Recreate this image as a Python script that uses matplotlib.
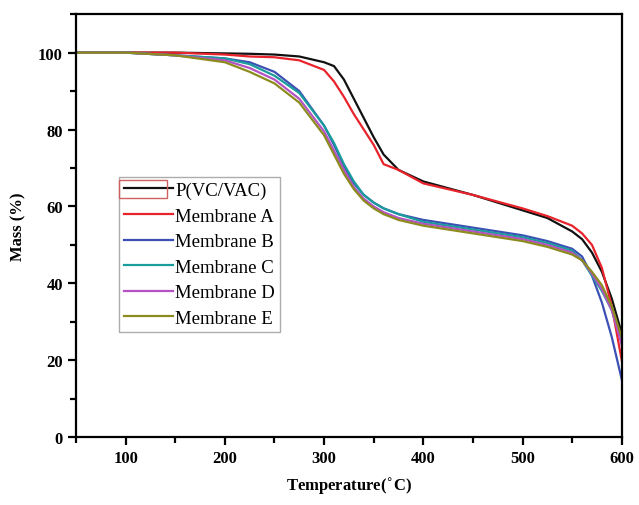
import matplotlib
matplotlib.use("Agg")
import matplotlib.pyplot as plt
from matplotlib.patches import Rectangle
from matplotlib.ticker import MultipleLocator

# ---------------------------------------------------------------- data ----
temp = [50, 100, 150, 200, 225, 250, 275, 300, 310, 320, 330, 340, 350, 360,
        375, 400, 450, 500, 525, 550, 560, 570, 580, 590, 600]
pvc = [100, 100, 100, 99.8, 99.7, 99.5, 99, 97.5, 96.5, 93, 88, 83, 78, 73.5,
       69.5, 66.5, 63, 59, 57, 53.5, 51.5, 48, 43, 36, 27]
mem_a = [100, 100, 100, 99.5, 99, 98.8, 98, 95.5, 92.5, 88.5, 84, 80, 76, 71,
         69.5, 66, 63, 59.5, 57.5, 55, 53, 50, 44, 34, 20]
mem_b = [100, 100, 99.3, 98.5, 97.5, 95, 90, 81, 76, 70.5, 66, 63, 61, 59.5,
         58, 56.5, 54.5, 52.5, 51, 49, 47, 42, 35, 26, 15]
mem_c = [100, 100, 99.3, 98.5, 97, 94, 89.5, 81, 76.5, 71, 66.5, 63, 61, 59.5,
         58, 56, 54, 52, 50.5, 48.5, 46, 42, 38, 33, 25]
mem_d = [100, 100, 99.3, 98, 96, 93, 88, 79.5, 74.5, 69.5, 65, 62, 60, 58.5,
         57, 55.5, 53.5, 51.5, 50, 48, 46, 42.5, 38.5, 33, 24]
mem_e = [100, 100, 99.3, 97.5, 95, 92, 87, 78.5, 73.5, 68.5, 64.5, 61.5, 59.5, 58,
         56.5, 55, 53, 51, 49.5, 47.5, 46, 43, 39.5, 34, 26]

labels = ["P(VC/VAC)", "Membrane A", "Membrane B", "Membrane C", "Membrane D", "Membrane E"]
series = [pvc, mem_a, mem_b, mem_c, mem_d, mem_e]
colors = ["#111111", "#e8232b", "#3c4fb4", "#1a9c9c", "#b452c4", "#8c8c1e"]

plt.rcParams["font.family"] = ["Liberation Serif", "DejaVu Serif"]

fig = plt.figure(figsize=(6.39, 5.06), dpi=100)
ax = fig.add_axes([0.119, 0.134, 0.854, 0.836])

for y, lab, c in zip(series, labels, colors):
    ax.plot(temp, y, color=c, lw=1.6, label=lab)

ax.set_xlim(50, 600)
ax.set_ylim(0, 110)
ax.xaxis.set_major_locator(MultipleLocator(100))
ax.xaxis.set_minor_locator(MultipleLocator(50))
ax.yaxis.set_major_locator(MultipleLocator(20))
ax.yaxis.set_minor_locator(MultipleLocator(10))
ax.tick_params(which="both", direction="out", width=1.6, top=False, right=False)
ax.tick_params(which="major", length=6, labelsize=12)
ax.tick_params(which="minor", length=4)
for t in ax.get_xticklabels() + ax.get_yticklabels():
    t.set_fontweight("bold")
for s in ax.spines.values():
    s.set_linewidth(1.6)

ax.set_xlabel("Temperature($^{\\circ}$C)", fontsize=12, fontweight="bold", labelpad=6)
ax.set_ylabel("Mass (%)", fontsize=12, fontweight="bold", labelpad=8)

leg = ax.legend(loc="upper left", bbox_to_anchor=(0.079, 0.615), fontsize=13.5,
                handlelength=2.6, handletextpad=0.15, labelspacing=0.45,
                borderpad=0.25, borderaxespad=0, fancybox=False, frameon=True)
leg.get_frame().set_edgecolor("#999999")
leg.get_frame().set_linewidth(1.0)

# red selection box around the first legend handle
fig.patches.append(Rectangle((119 / 639, 1 - 199 / 506), 48 / 639, 18 / 506,
                             transform=fig.transFigure, fill=False,
                             edgecolor="#d06060", lw=1.0))

fig.savefig("out.png", dpi=100)
